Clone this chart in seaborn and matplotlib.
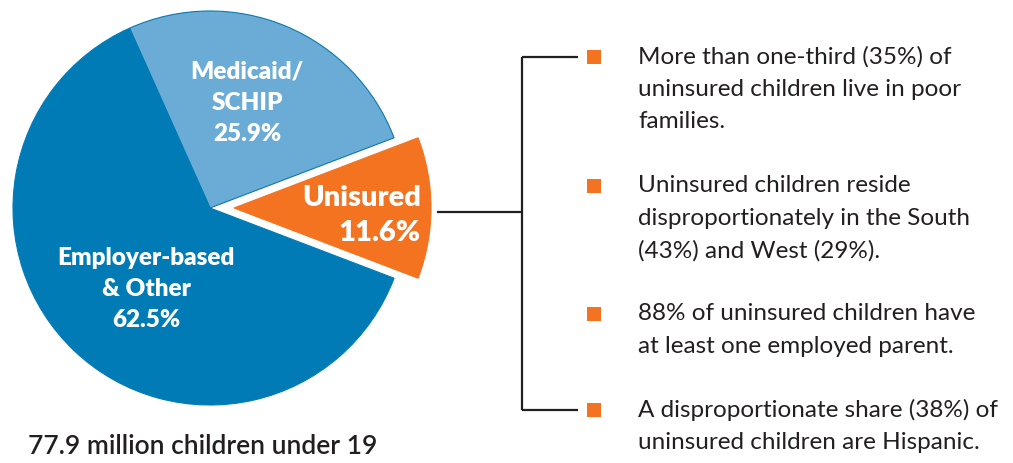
import matplotlib
matplotlib.use("Agg")
import matplotlib.pyplot as plt
import seaborn as sns

# pie data
shares = [11.6, 25.9, 62.5]
slice_names = ["Unisured", "Medicaid/SCHIP", "Employer-based & Other"]
slice_colors = ["#F37321", "#6AACD6", "#007BB5"]
total_label = "77.9 million children under 19"

# callout bullets
bullets = [
    ["More than one-third (35%) of", "uninsured children live in poor", "families."],
    ["Uninsured children reside", "disproportionately in the South", "(43%) and West (29%)."],
    ["88% of uninsured children have", "at least one employed parent."],
    ["A disproportionate share (38%) of", "uninsured children are Hispanic."],
]
bullet_rows = [57, 186, 314, 410]

sns.set_theme(style="white")
plt.rcParams["font.family"] = ["Lato", "DejaVu Sans"]

W, H = 1013, 463
fig = plt.figure(figsize=(W / 100, H / 100), dpi=100)
ax = fig.add_axes([0, 0, 1, 1])


def Y(y):
    # image row -> data y
    return H - y


cx, cy, r = 210, Y(208), 197
start = -shares[0] / 100 * 360 / 2
wedges, _ = ax.pie(
    shares, colors=slice_colors, startangle=start, counterclock=True,
    center=(cx, cy), radius=r, explode=[24, 0, 0],
    wedgeprops=dict(linewidth=0.8, edgecolor="#0A78B0"),
)
wedges[0].set_edgecolor("#F37321")
wedges[2].set_edgecolor("#007BB5")

lab = dict(color="white", fontweight="heavy", ha="center", va="center")
for i, s in enumerate(["Medicaid/", "SCHIP", "25.9%"]):
    ax.text(247, Y(72 + 31 * i), s, fontsize=17.5, **lab)
for i, s in enumerate(["Employer-based", "& Other", "62.5%"]):
    ax.text(146, Y(258 + 31 * i), s, fontsize=17.5, **lab)
ax.text(421, Y(198), "Unisured", fontsize=21, color="white", fontweight="heavy",
        ha="right", va="center")
ax.text(421, Y(233), "11.6%", fontsize=21, color="white", fontweight="heavy",
        ha="right", va="center")

ax.text(28, Y(447), total_label, fontsize=19, color="#231F20", fontweight="semibold",
        ha="left", va="center")

# bracket
line_kw = dict(color="#231F20", lw=1.6, solid_capstyle="butt")
ax.plot([437, 522], [Y(212), Y(212)], **line_kw)
ax.plot([522, 522], [Y(bullet_rows[0]), Y(bullet_rows[-1])], **line_kw)
ax.plot([522, 578], [Y(bullet_rows[0]), Y(bullet_rows[0])], **line_kw)
ax.plot([522, 578], [Y(bullet_rows[-1]), Y(bullet_rows[-1])], **line_kw)

ax.scatter([594] * len(bullet_rows), [Y(y) for y in bullet_rows], marker="s",
           s=100, color="#F37321", linewidths=0, zorder=3)

for rows, y0 in zip(bullets, bullet_rows):
    for j, s in enumerate(rows):
        ax.text(638, Y(y0 + 32.5 * j), s, fontsize=17.5, color="#231F20",
                ha="left", va="center")

ax.set_xlim(0, W)
ax.set_ylim(0, H)
ax.set_aspect("auto")
ax.axis("off")

fig.savefig("out.png", dpi=100)
